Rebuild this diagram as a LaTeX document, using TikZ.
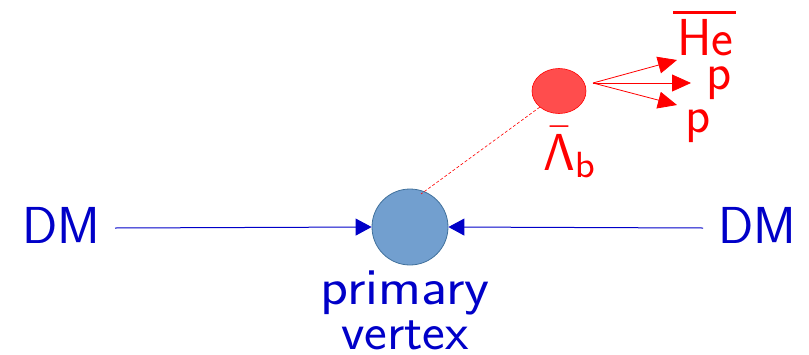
\documentclass[tikz,border=0pt]{standalone}
\usetikzlibrary{arrows.meta,shapes.geometric}
\definecolor{dmblue}{RGB}{0,0,200}
\definecolor{pvfill}{RGB}{114,159,207}
\definecolor{pvdraw}{RGB}{65,113,156}
\definecolor{lbfill}{RGB}{255,77,77}
\definecolor{lbred}{RGB}{255,0,0}
\tikzset{
  bigtxt/.style={font=\sffamily\fontsize{52}{54}\selectfont, inner sep=0pt},
  bluearrow/.style={draw=dmblue, line width=1pt, -{Triangle[length=16pt,width=17pt]}},
  redarrow/.style={draw=lbred, line width=0.8pt, -{Triangle[length=19pt,width=17pt]}},
}
\begin{document}
\begin{tikzpicture}[x=1pt,y=-1pt]
\useasboundingbox (0,0) rectangle (809,354);
% vertices
\node[circle, minimum size=76pt, inner sep=0pt, fill=pvfill, draw=pvdraw, line width=0.8pt] (pv) at (410,227) {};
\node[ellipse, minimum width=54pt, minimum height=45pt, inner sep=0pt, fill=lbfill, draw=lbred, line width=0.6pt] (lb) at (559,91) {};
% DM labels
\node[bigtxt, text=dmblue, anchor=base] (dml) at (61,243) {DM};
\node[bigtxt, text=dmblue, anchor=base] (dmr) at (757,243) {DM};
\coordinate (al) at (115,228);
\coordinate (ar) at (703,228);
\draw[bluearrow] (al) -- (pv.west);
\draw[bluearrow] (ar) -- (pv.east);
% primary vertex label
\node[bigtxt, text=dmblue, anchor=base] (pvl1) at (405,304) {\scalebox{1.11}[1]{primary}};
\node[bigtxt, text=dmblue, anchor=base] (pvl2) at (405,349) {\scalebox{1.04}[1]{vertex}};
% dashed flight line
\draw[lbred, line width=0.6pt, dash pattern=on 3pt off 2pt] (lb.220) -- (421,194);
% Lambda_b label
\node[text=lbred, inner sep=0pt, anchor=base west] (lbl) at (543,170) {\scalebox{5.2}{$\bar{\mathsf{\Lambda}}_{\mathsf{b}}$}};
% decay products
\coordinate (dv) at (593,83);
\node[bigtxt, text=lbred, anchor=base west] (he) at (677,55) {He};
\draw[lbred, line width=2.6pt] ([xshift=-4pt,yshift=6pt]he.north west) -- ([xshift=2pt,yshift=6pt]he.north east);
\node[bigtxt, text=lbred, anchor=base west] (p1) at (706,89) {p};
\node[bigtxt, text=lbred, anchor=base west] (p2) at (685,132) {p};
\coordinate (t1) at (677,60);
\coordinate (t2) at (691,83);
\coordinate (t3) at (677,105);
\draw[redarrow] (dv) -- (t1);
\draw[redarrow] (dv) -- (t2);
\draw[redarrow] (dv) -- (t3);
\end{tikzpicture}
\end{document}
